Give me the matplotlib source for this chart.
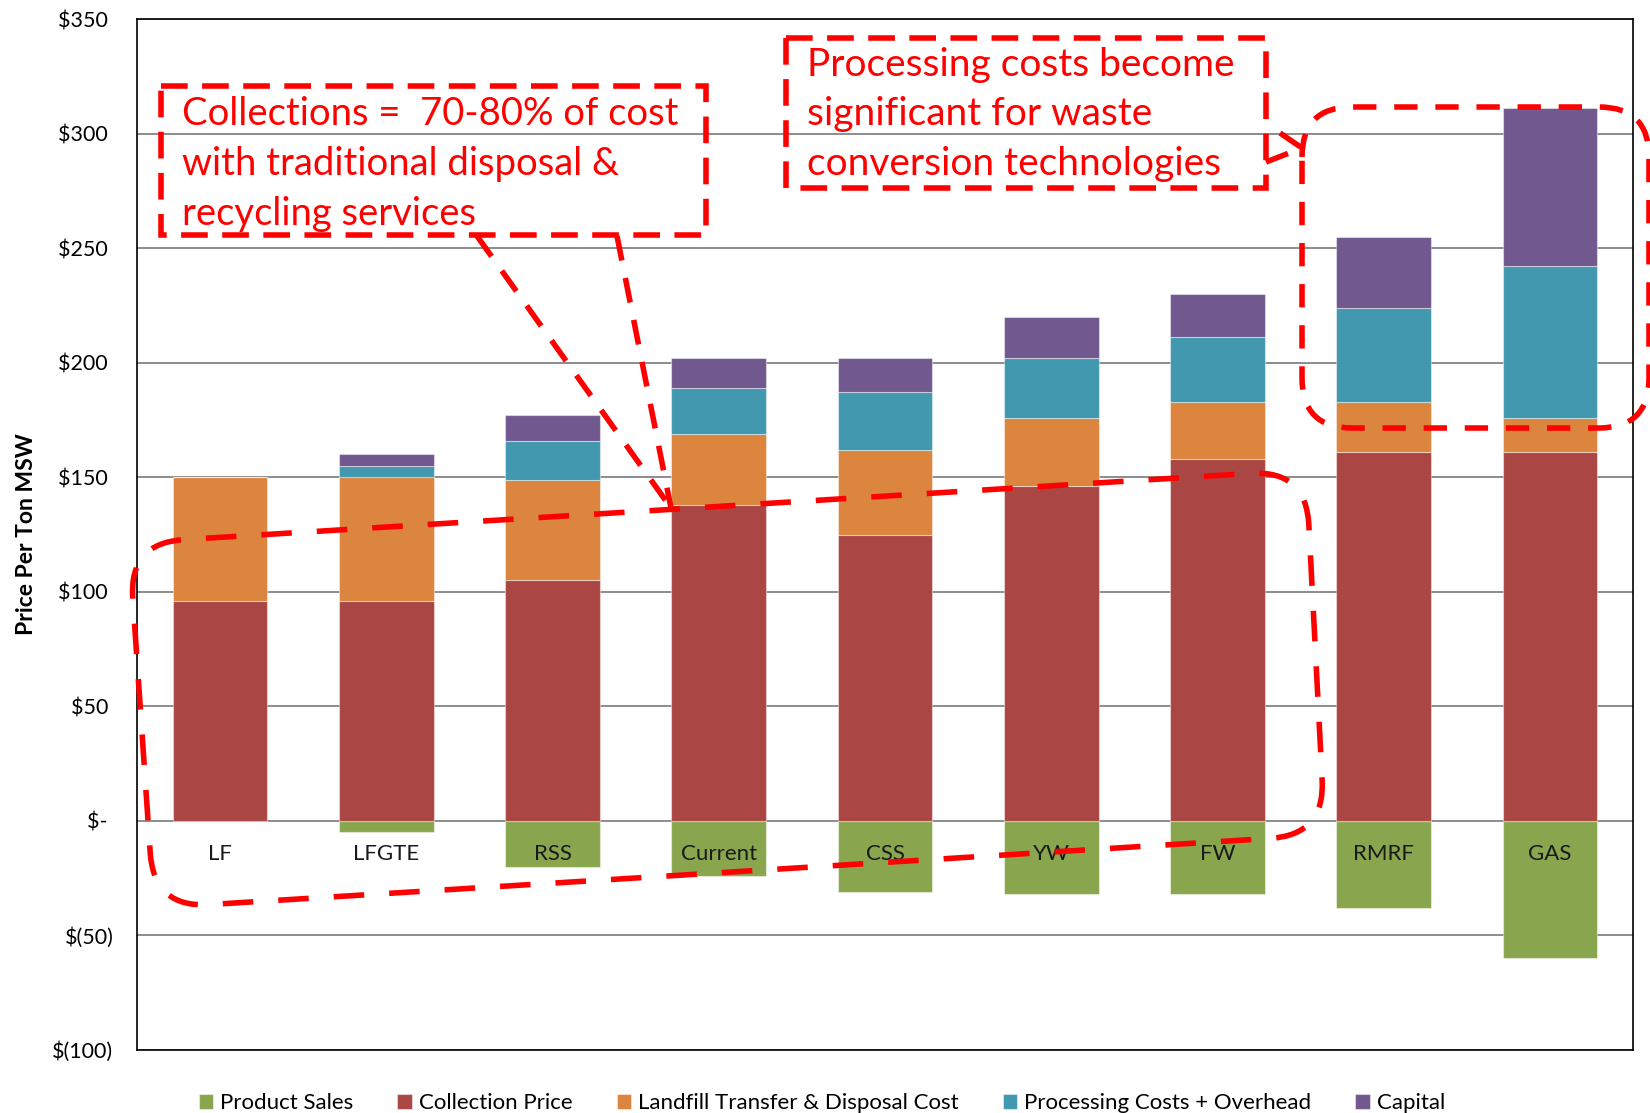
import numpy as np
import matplotlib
import matplotlib.pyplot as plt
from matplotlib.path import Path
from matplotlib.patches import PathPatch, Rectangle
from matplotlib.transforms import Affine2D

matplotlib.use('Agg')

# Cost per ton of MSW for each management scenario
categories = ['LF', 'LFGTE', 'RSS', 'Current', 'CSS', 'YW', 'FW', 'RMRF', 'GAS']

product_sales = [0, -5, -20, -24, -31, -32, -32, -38, -60]
collection_price = [96, 96, 105, 138, 125, 146, 158, 161, 161]
landfill_cost = [54, 54, 44, 31, 37, 30, 25, 22, 15]
processing_cost = [0, 5, 17, 20, 25, 26, 28, 41, 66]
capital = [0, 5, 11, 13, 15, 18, 19, 31, 69]

series_names = ['Product Sales', 'Collection Price', 'Landfill Transfer & Disposal Cost',
                'Processing Costs + Overhead', 'Capital']
colors = ['#89A64F', '#AA4744', '#DB853E', '#4298AF', '#715990']

yticks = np.arange(-100, 351, 50)

W, H = 1650, 1113
plt.rcParams['font.family'] = 'Lato'

fig = plt.figure(figsize=(W / 100, H / 100), dpi=100)
ax = fig.add_axes([137 / W, 1 - 1050 / H, 1496 / W, 1031 / H])

x = np.arange(len(categories))
bar_w = 0.57
edge = dict(edgecolor=(1, 1, 1, 0.45), linewidth=0.8)

# Negative bar for product sales, stacked positive costs above zero
bars = [ax.bar(x, product_sales, bar_w, color=colors[0], **edge)]
bottom = np.zeros(len(categories))
for vals, c in zip([collection_price, landfill_cost, processing_cost, capital], colors[1:]):
    bars.append(ax.bar(x, vals, bar_w, bottom=bottom, color=c, **edge))
    bottom += np.array(vals)

# Category names sit just under the zero line
for xi, name in zip(x, categories):
    ax.text(xi, -14.5, name, ha='center', va='center', fontsize=16, color='#1a1a1a')


def money(v):
    if v == 0:
        return '$- '
    if v < 0:
        return '$(%d)' % -v
    return '$%d ' % v


ax.set_xlim(-0.5, len(categories) - 0.5)
ax.set_ylim(-100, 350)
ax.set_xticks([])
ax.set_yticks(yticks)
ax.set_yticklabels([money(v) for v in yticks], fontsize=15.5)
ax.tick_params(axis='y', length=0, pad=17)
ax.yaxis.grid(True, color='#8c8c8c', linewidth=1.4)
ax.set_axisbelow(True)
for s in ax.spines.values():
    s.set_color('black')
    s.set_linewidth(1.2)

ax.set_ylabel('Price Per Ton MSW', fontsize=16.5, fontweight='bold', va='center')
ax.yaxis.set_label_coords(-0.074, 0.5)

fig.legend([b for b in bars], series_names, loc='center', bbox_to_anchor=(0.498, 0.009),
           ncol=5, frameon=False, fontsize=16, handlelength=0.65, handleheight=0.65,
           handletextpad=0.3, columnspacing=2.0)

# Callouts, laid out in pixel units from the top-left corner of the figure
px = Affine2D().scale(1 / W, -1 / H).translate(0, 1) + fig.transFigure
red = '#FF0000'
callout = dict(color=red, linewidth=4, transform=px, clip_on=False)


def rounded_poly(pts, r):
    pts = np.asarray(pts, float)
    verts, codes = [], []
    for i in range(len(pts)):
        p, v, q = pts[i - 1], pts[i], pts[(i + 1) % len(pts)]
        a = v + (p - v) / np.hypot(*(p - v)) * r
        b = v + (q - v) / np.hypot(*(q - v)) * r
        verts += [a, v, b]
        codes += [Path.LINETO, Path.CURVE3, Path.CURVE3]
    codes[0] = Path.MOVETO
    verts.append(verts[0])
    codes.append(Path.LINETO)
    return Path(verts, codes)


# Collections note
fig.add_artist(Rectangle((161, 86), 545, 149, fill=False, edgecolor=red, linewidth=4,
                         linestyle=(0, (4.8, 2.6)), transform=px))
for yb, line in zip([125, 175, 225], ['Collections =  70-80% of cost',
                                      'with traditional disposal &',
                                      'recycling services']):
    fig.text(182, yb, line, color=red, fontsize=27.5, va='baseline', transform=px)
for x0 in [477, 617]:
    fig.add_artist(plt.Line2D([x0, 671], [236, 508], linestyle=(0, (4.5, 3.2)), **callout))

# Processing note
fig.add_artist(Rectangle((786, 38), 480, 150, fill=False, edgecolor=red, linewidth=4,
                         linestyle=(0, (4.8, 2.6)), transform=px))
for yb, line in zip([76, 125, 175], ['Processing costs become',
                                     'significant for waste',
                                     'conversion technologies']):
    fig.text(807, yb, line, color=red, fontsize=28, va='baseline', transform=px)
fig.add_artist(plt.Line2D([1280, 1302, 1266], [133, 148, 162], linestyle=(0, (4.5, 3)), **callout))

# Rounded outlines around the scenario groups
fig.add_artist(PathPatch(rounded_poly([(1302, 107), (1649, 107), (1649, 428), (1302, 428)], 50),
                         fill=False, edgecolor=red, linewidth=4, linestyle=(0, (4.2, 3.2)),
                         transform=px, clip_on=False))
fig.add_artist(PathPatch(rounded_poly([(129, 543), (1306, 470), (1325, 835), (154, 908)], 55),
                         fill=False, edgecolor=red, linewidth=4, linestyle=(0, (5.5, 4.5)),
                         transform=px, clip_on=False))

plt.savefig('out.png', dpi=100, facecolor='white')
